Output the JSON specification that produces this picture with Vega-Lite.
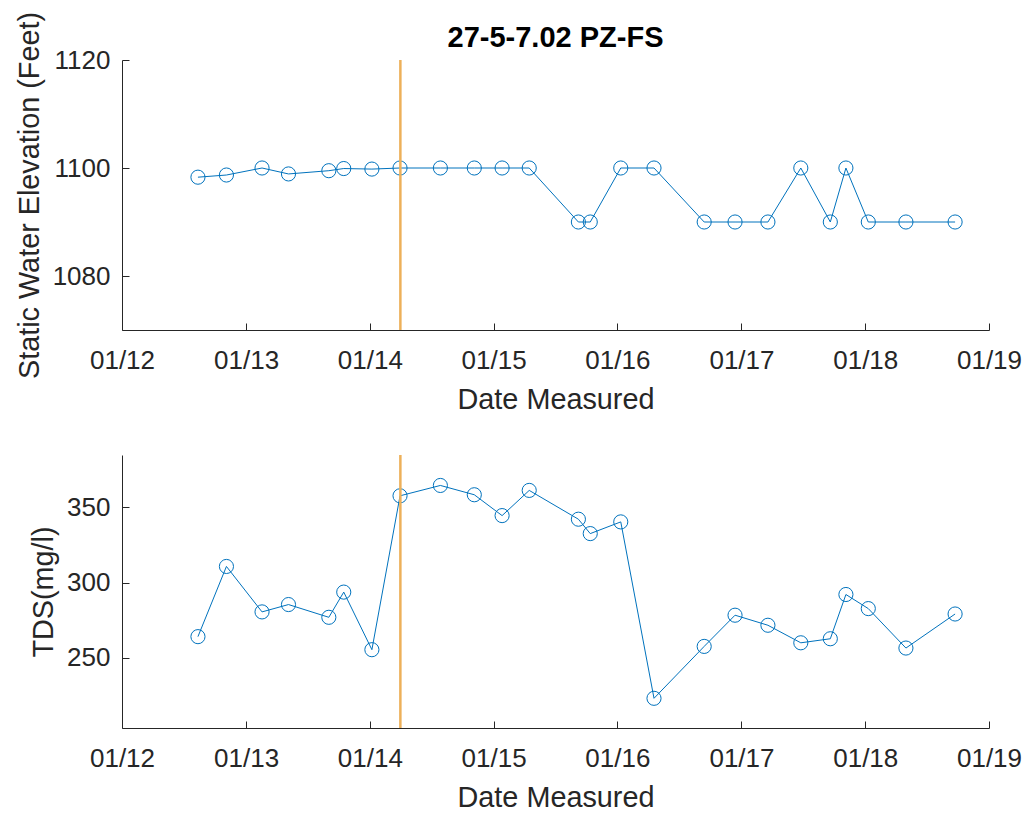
{
  "$schema": "https://vega.github.io/schema/vega-lite/v6.json",
  "padding": {"left": 15, "top": 11, "right": 5, "bottom": 0},
  "background": "white",
  "datasets": {
    "wells": [
      {"date": "2012-08-12", "elevation": 1098.3, "tds": 263.9},
      {"date": "2012-11-04", "elevation": 1098.7, "tds": 310.7},
      {"date": "2013-02-17", "elevation": 1100.0, "tds": 280.4},
      {"date": "2013-05-06", "elevation": 1098.9, "tds": 285.3},
      {"date": "2013-09-02", "elevation": 1099.5, "tds": 276.8},
      {"date": "2013-10-16", "elevation": 1099.9, "tds": 293.6},
      {"date": "2014-01-07", "elevation": 1099.8, "tds": 255.2},
      {"date": "2014-03-31", "elevation": 1100.0, "tds": 357.8},
      {"date": "2014-07-28", "elevation": 1100.0, "tds": 364.7},
      {"date": "2014-11-05", "elevation": 1100.0, "tds": 358.5},
      {"date": "2015-01-26", "elevation": 1100.0, "tds": 344.6},
      {"date": "2015-04-16", "elevation": 1100.0, "tds": 361.4},
      {"date": "2015-09-08", "elevation": 1090.0, "tds": 342.2},
      {"date": "2015-10-13", "elevation": 1090.0, "tds": 332.6},
      {"date": "2016-01-11", "elevation": 1100.0, "tds": 340.4},
      {"date": "2016-04-18", "elevation": 1100.0, "tds": 222.8},
      {"date": "2016-09-13", "elevation": 1090.0, "tds": 257.4},
      {"date": "2016-12-13", "elevation": 1090.0, "tds": 278.2},
      {"date": "2017-03-20", "elevation": 1090.0, "tds": 271.5},
      {"date": "2017-06-25", "elevation": 1100.0, "tds": 259.8},
      {"date": "2017-09-20", "elevation": 1090.0, "tds": 262.5},
      {"date": "2017-11-05", "elevation": 1100.0, "tds": 292.0},
      {"date": "2018-01-10", "elevation": 1090.0, "tds": 282.6},
      {"date": "2018-05-01", "elevation": 1090.0, "tds": 256.3},
      {"date": "2018-09-23", "elevation": 1090.0, "tds": 279.0}
    ],
    "event": [{"date": "2014-04-01"}]
  },
  "config": {
    "font": "Liberation Sans",
    "view": {"stroke": null},
    "axis": {
      "grid": false,
      "domainColor": "#262626",
      "tickColor": "#262626",
      "labelColor": "#262626",
      "titleColor": "#262626",
      "labelFont": "Liberation Sans",
      "titleFont": "Liberation Sans",
      "labelFontSize": 26,
      "titleFontSize": 28.8,
      "titleFontWeight": "normal",
      "tickSize": -7,
      "domainWidth": 1,
      "tickWidth": 1
    },
    "axisX": {"labelPadding": 24, "titlePadding": 12, "labelFlush": false},
    "axisY": {"labelPadding": 19, "titlePadding": 8, "format": "d"}
  },
  "spacing": 39,
  "vconcat": [
    {
      "title": {"text": "27-5-7.02 PZ-FS", "fontSize": 29, "fontWeight": "bold", "frame": "group", "anchor": "middle", "offset": -42, "color": "#000000", "font": "Liberation Sans"},
      "width": 867,
      "height": 270,
      "layer": [
        {
          "data": {"name": "wells"},
          "mark": {"type": "line", "color": "#0072BD", "strokeWidth": 1},
          "encoding": {
            "x": {"field": "date", "type": "temporal", "scale": {"type": "utc", "domain": ["2012-01-01", "2019-01-01"]}, "axis": {"title": "Date Measured", "format": "%m/%y", "tickCount": {"interval": "year", "step": 1}}},
            "y": {"field": "elevation", "type": "quantitative", "scale": {"domain": [1070, 1120], "nice": false, "zero": false}, "axis": {"title": "Static Water Elevation (Feet)", "values": [1080, 1100, 1120]}}
          }
        },
        {
          "data": {"name": "wells"},
          "mark": {"type": "point", "shape": "circle", "filled": false, "color": "#0072BD", "size": 200, "strokeWidth": 1, "opacity": 1},
          "encoding": {
            "x": {"field": "date", "type": "temporal"},
            "y": {"field": "elevation", "type": "quantitative"}
          }
        },
        {
          "data": {"name": "event"},
          "mark": {"type": "rule", "color": "#EDB05A", "strokeWidth": 2.5},
          "encoding": {"x": {"field": "date", "type": "temporal"}}
        }
      ]
    },
    {
      "width": 867,
      "height": 273,
      "layer": [
        {
          "data": {"name": "wells"},
          "mark": {"type": "line", "color": "#0072BD", "strokeWidth": 1},
          "encoding": {
            "x": {"field": "date", "type": "temporal", "scale": {"type": "utc", "domain": ["2012-01-01", "2019-01-01"]}, "axis": {"title": "Date Measured", "format": "%m/%y", "tickCount": {"interval": "year", "step": 1}}},
            "y": {"field": "tds", "type": "quantitative", "scale": {"domain": [203, 385], "nice": false, "zero": false}, "axis": {"title": "TDS(mg/l)", "values": [250, 300, 350]}}
          }
        },
        {
          "data": {"name": "wells"},
          "mark": {"type": "point", "shape": "circle", "filled": false, "color": "#0072BD", "size": 200, "strokeWidth": 1, "opacity": 1},
          "encoding": {
            "x": {"field": "date", "type": "temporal"},
            "y": {"field": "tds", "type": "quantitative"}
          }
        },
        {
          "data": {"name": "event"},
          "mark": {"type": "rule", "color": "#EDB05A", "strokeWidth": 2.5},
          "encoding": {"x": {"field": "date", "type": "temporal"}}
        }
      ]
    }
  ]
}
